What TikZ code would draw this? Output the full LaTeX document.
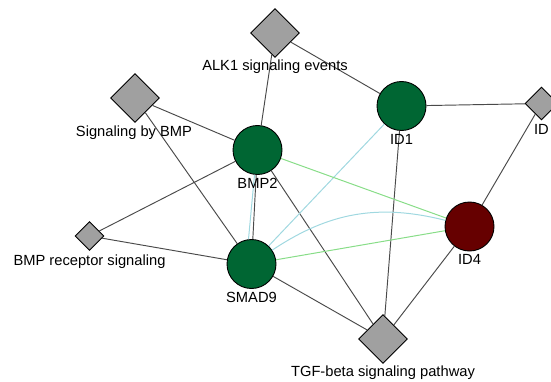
\documentclass[tikz,border=0pt]{standalone}
\usepackage{fontspec}
\setmainfont{Liberation Sans}
\usetikzlibrary{shapes.geometric}
\definecolor{genefill}{HTML}{006633}
\definecolor{idfourfill}{HTML}{660000}
\definecolor{pathfill}{HTML}{A0A0A0}
\definecolor{edgegray}{HTML}{4A4A4A}
\definecolor{edgegreen}{HTML}{88DD88}
\definecolor{edgeblue}{HTML}{A0D8E0}
\begin{document}
\begin{tikzpicture}[x=1pt,y=-1pt,
  gene/.style={circle,draw=black,line width=0.9pt,fill=genefill,minimum size=49pt,inner sep=0pt},
  pathway/.style={diamond,draw=black,line width=0.9pt,fill=pathfill,inner sep=0pt,minimum size=#1},
  lbl/.style={anchor=base,font=\fontsize{14.7}{17}\selectfont,inner sep=0pt},
  link/.style={draw=edgegray,line width=0.95pt},
  greenlink/.style={draw=edgegreen,line width=1pt},
  bluelink/.style={draw=edgeblue,line width=1pt}]
\useasboundingbox (0,0) rectangle (551,382);
\clip (0,0) rectangle (551,382);

% pathway nodes (diamonds)
\node[pathway=49pt] (alk) at (275,33) {};
\node[pathway=49pt] (sigbmp) at (135,98) {};
\node[pathway=29pt] (bmprec) at (89.5,236) {};
\node[pathway=49pt] (tgf) at (383,339) {};
\node[pathway=33pt] (idpath) at (541.5,103.5) {};

% gene nodes (circles)
\node[gene] (bmp2) at (257.5,150) {};
\node[gene] (smad9) at (251.5,264) {};
\node[gene] (id1) at (401.5,106) {};
\node[gene,fill=idfourfill] (id4) at (469.5,226.5) {};

% pathway membership links
\draw[link] (alk) -- (bmp2);
\draw[link] (alk) -- (id1);
\draw[link] (sigbmp) -- (bmp2);
\draw[link] (sigbmp) -- (smad9);
\draw[link] (bmprec) -- (bmp2);
\draw[link] (bmprec) -- (smad9);
\draw[link] (bmp2) -- (tgf);
\draw[link] (smad9) -- (tgf);
\draw[link] (id1) -- (tgf);
\draw[link] (id4) -- (tgf);
\draw[link] (id1) -- (idpath);
\draw[link] (idpath) -- (id4);
\draw[link] (bmp2) -- (smad9);

% interaction links
\draw[bluelink] ([xshift=-3pt]bmp2.south) -- ([xshift=-3pt]smad9.north);
\draw[bluelink] (smad9) -- (id1);
\draw[bluelink] (smad9) to[bend left=24] (id4);
\draw[greenlink] (bmp2) -- (id4);
\draw[greenlink] (smad9) -- (id4);

% labels
\node[lbl] (alklbl) at (275,71) {ALK1 signaling events};
\node[lbl] (sigbmplbl) at (134,137) {Signaling by BMP};
\node[lbl] (bmpreclbl) at (89.5,265) {BMP receptor signaling};
\node[lbl] (tgflbl) at (383,376) {TGF-beta signaling pathway};
\node[lbl] (idpathlbl) at (541.5,135) {ID};
\node[lbl] (bmp2lbl) at (257.5,189) {BMP2};
\node[lbl] (smad9lbl) at (251.5,302) {SMAD9};
\node[lbl] (id1lbl) at (401.5,145) {ID1};
\node[lbl] (id4lbl) at (469.5,264) {ID4};
\end{tikzpicture}
\end{document}
